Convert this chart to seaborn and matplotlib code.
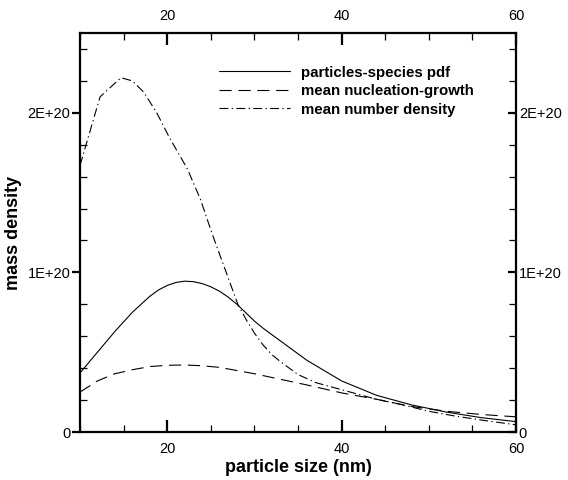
import numpy as np
import pandas as pd
import matplotlib
matplotlib.use("Agg")
import matplotlib.pyplot as plt
from matplotlib.ticker import MultipleLocator, FuncFormatter
import seaborn as sns

# ---- data (mass density in units of 1E+20) ----
pdf_x = [10, 12, 14, 16, 18, 19, 20, 21, 22, 23, 24, 25, 26, 27, 28, 29, 30, 31, 33, 36,
         40, 44, 48, 52, 56, 60]
pdf_y = [0.37, 0.50, 0.63, 0.75, 0.85, 0.89, 0.918, 0.937, 0.945, 0.942, 0.93, 0.91,
         0.882, 0.845, 0.80, 0.748, 0.695, 0.65, 0.57, 0.45, 0.32, 0.23, 0.17, 0.125,
         0.09, 0.065]

nuc_x = [10, 12, 14, 16, 18, 20, 22, 24, 26, 28, 30, 33, 36, 40, 44, 48, 52, 56, 60]
nuc_y = [0.25, 0.32, 0.365, 0.39, 0.41, 0.418, 0.42, 0.415, 0.405, 0.385, 0.365, 0.33,
         0.295, 0.245, 0.205, 0.16, 0.13, 0.11, 0.095]

num_x = [10, 12.3, 14.7, 16, 17.3, 18.8, 20.3, 22.3, 23.8, 25.1, 28.1, 29.1, 30, 31, 32,
         33, 35, 37, 41, 44, 47, 50, 53, 56, 60]
num_y = [1.67, 2.10, 2.22, 2.20, 2.13, 2.00, 1.84, 1.65, 1.46, 1.25, 0.80, 0.70, 0.62,
         0.545, 0.485, 0.44, 0.36, 0.31, 0.25, 0.205, 0.17, 0.13, 0.10, 0.075, 0.045]

labels = ["particles-species pdf", "mean nucleation-growth", "mean number density"]
SCALE = 1e20

sns.set_style("ticks")
plt.rcParams["font.family"] = ["Liberation Sans", "DejaVu Sans"]
plt.rcParams["text.color"] = "black"
plt.rcParams["axes.labelcolor"] = "black"
plt.rcParams["xtick.color"] = "black"
plt.rcParams["ytick.color"] = "black"

fig = plt.figure(figsize=(5.68, 4.8), dpi=100)
ax = fig.add_axes([80 / 568, 48 / 480, 436 / 568, 399 / 480])

styles = [None, (11, 6), (8, 3, 1.2, 3)]
for xs, ys, lab, st in zip([pdf_x, nuc_x, num_x], [pdf_y, nuc_y, num_y], labels, styles):
    df = pd.DataFrame({"x": xs, "y": np.array(ys) * SCALE})
    sns.lineplot(data=df, x="x", y="y", ax=ax, color="black", linewidth=0.8,
                 label=lab, sort=False)
    if st is not None:
        ax.get_lines()[-1].set_dashes(st)

ax.set_xlim(10, 60)
ax.set_ylim(0, 2.5e20)

ax.xaxis.set_major_locator(MultipleLocator(20))
ax.xaxis.set_minor_locator(MultipleLocator(5))
ax.yaxis.set_major_locator(MultipleLocator(1e20))
ax.yaxis.set_minor_locator(MultipleLocator(0.2e20))


def yfmt(v, pos):
    if abs(v) < 1:
        return "0"
    return f"{v / 1e20:.0f}E+20"


ax.yaxis.set_major_formatter(FuncFormatter(yfmt))

for sp in ax.spines.values():
    sp.set_linewidth(1.6)
    sp.set_color("black")

ax.tick_params(axis="x", which="major", direction="in", length=8.5, width=1.6,
               top=True, labeltop=True, bottom=True, labelbottom=True,
               labelsize=10.5, pad=7, colors="black")
ax.tick_params(axis="x", which="minor", direction="in", length=5, width=0.9,
               top=True, bottom=True)
ax.tick_params(axis="y", which="major", direction="out", length=6, width=1.6,
               left=True, right=False, labelsize=10.5, pad=1, colors="black")
ax.tick_params(axis="y", which="minor", direction="in", length=5, width=0.9,
               left=True, right=False)

# right-hand axis with inward ticks
rx = ax.twinx()
rx.set_ylim(ax.get_ylim())
rx.yaxis.set_major_locator(MultipleLocator(1e20))
rx.yaxis.set_minor_locator(MultipleLocator(0.2e20))
rx.yaxis.set_major_formatter(FuncFormatter(yfmt))
for sp in rx.spines.values():
    sp.set_visible(False)
rx.tick_params(axis="y", which="major", direction="in", length=6, width=1.6,
               labelsize=10.5, pad=2, colors="black")
rx.tick_params(axis="y", which="minor", direction="in", length=5, width=0.9)
rx.set_ylabel("")

ax.set_xlabel("particle size (nm)", fontsize=13, fontweight="bold", labelpad=2,
              color="black")
ax.set_ylabel("mass density", fontsize=13, fontweight="bold", labelpad=4,
              color="black")

leg = ax.legend(loc="upper left", bbox_to_anchor=(0.319, 0.918), frameon=False,
                prop={"weight": "bold", "size": 10.8}, handlelength=4.7,
                handletextpad=0.75, labelspacing=0.3, borderpad=0, borderaxespad=0)
for t in leg.get_texts():
    t.set_color("black")

fig.savefig("out.png", dpi=100)
